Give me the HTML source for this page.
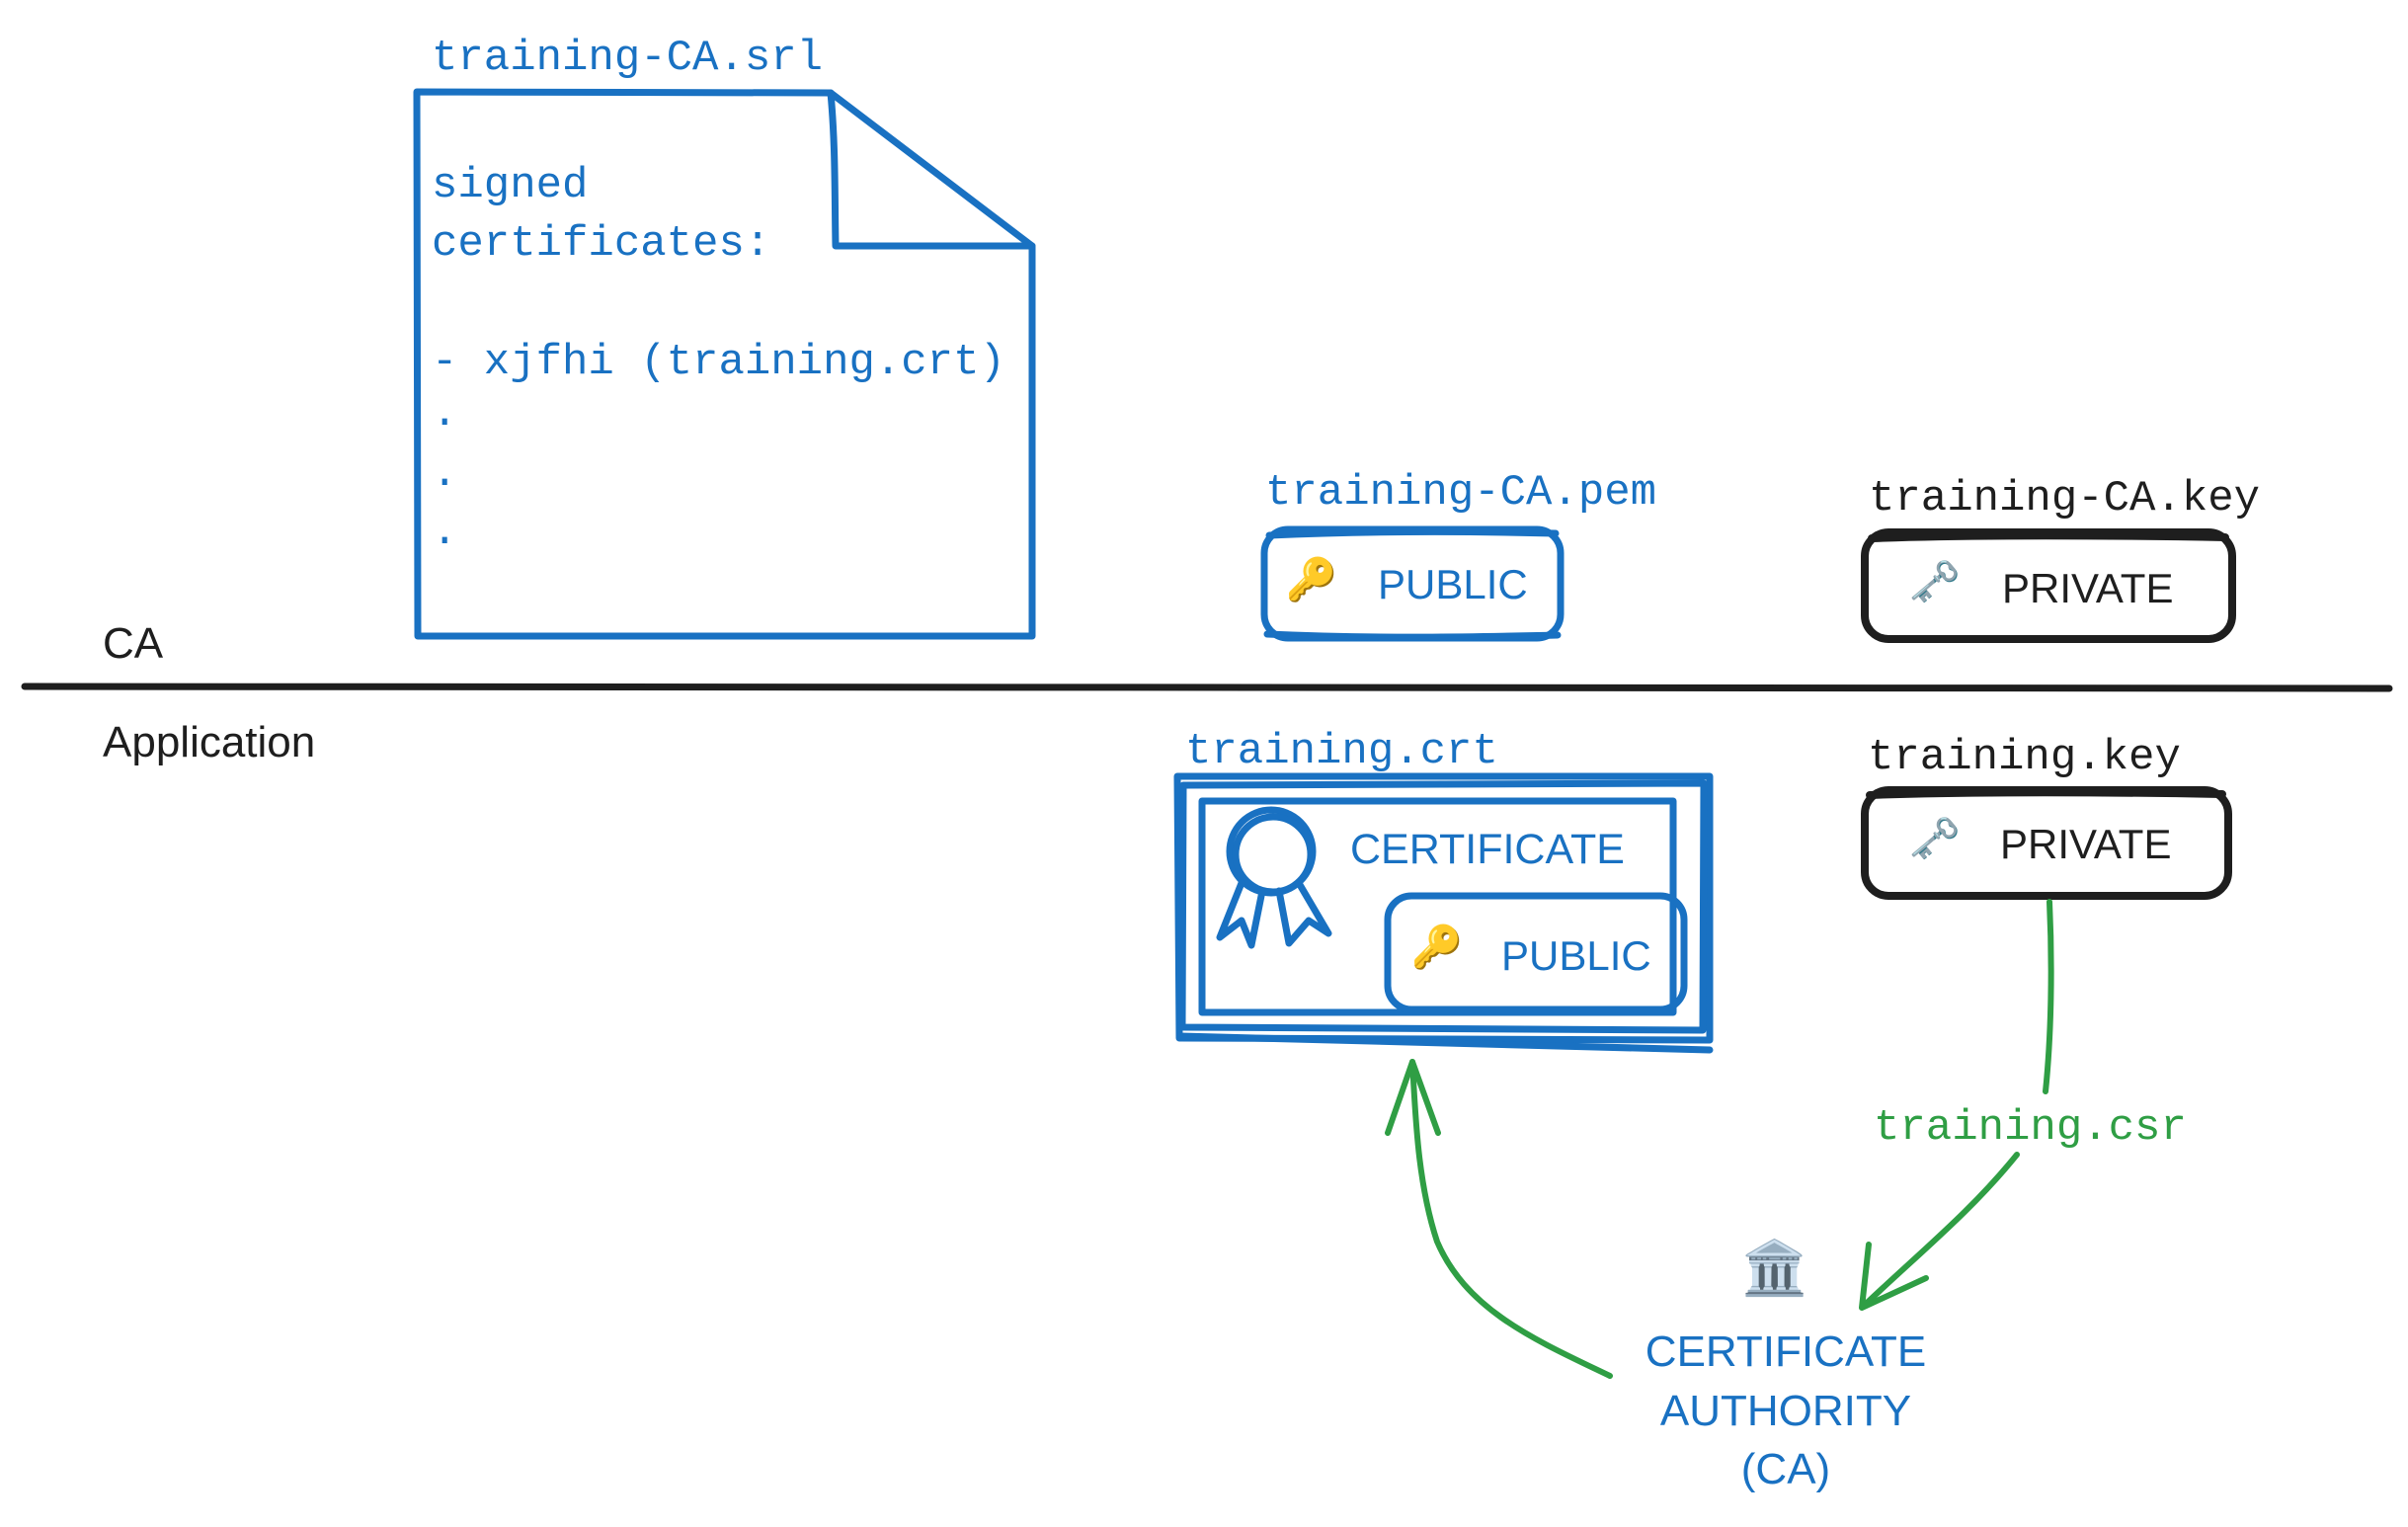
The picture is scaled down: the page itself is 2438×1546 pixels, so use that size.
<!DOCTYPE html>
<html><head><meta charset="utf-8"><style>
html,body{margin:0;padding:0;background:#fff;}
svg{display:block;}
.m{font-family:"Liberation Mono",monospace;font-size:44px;}
.s{font-family:"Liberation Sans",sans-serif;}
</style></head><body>
<svg width="2438" height="1546" viewBox="0 0 2438 1546" xmlns="http://www.w3.org/2000/svg">
<g transform="translate(-5,-3)">
<g fill="none" stroke="#1971c2" stroke-width="7" stroke-linejoin="round" stroke-linecap="round">
  <path d="M427 96 L846 97 L1050 252 L1050 647 L428 647 Z"/>
  <path d="M846 97 C851 150 850 200 851 252 L1050 252"/>
  <rect x="1285" y="539" width="300" height="110" rx="24"/>
  <path d="M1290 545 C1400 540 1500 541 1580 543 M1288 645 C1400 650 1500 648 1582 646"/>
  <path d="M1197 789 L1736 789 L1736 1056 L1199 1054 Z"/>
  <path d="M1203 798 L1730 796 L1729 1046 L1202 1043 Z M1200 1052 L1736 1066"/>
  <rect x="1222" y="814" width="477" height="214"/>
  <rect x="1410" y="910" width="300" height="115" rx="24"/>
  <circle cx="1292" cy="865" r="42"/>
  <circle cx="1294" cy="868" r="38"/>
  <path d="M1262 897 L1240 952 L1262 935 L1272 960 L1283 905 M1320 897 L1350 948 L1330 935 L1310 958 L1300 905"/>
</g>
<g fill="none" stroke="#1e1e1e" stroke-width="8" stroke-linejoin="round" stroke-linecap="round">
  <rect x="1893" y="542" width="372" height="108" rx="24"/>
  <path d="M1900 548 C2000 544 2150 545 2258 547"/>
  <rect x="1893" y="803" width="368" height="107" rx="24"/>
  <path d="M1898 808 C2000 804 2150 805 2255 807"/>
  <path d="M30 698 L2424 700" stroke-width="7"/>
</g>
<g fill="none" stroke="#2f9e44" stroke-width="6" stroke-linecap="round" stroke-linejoin="round">
  <path d="M2080 916 C2083 980 2082 1050 2076 1108"/>
  <path d="M2047 1172 C2000 1230 1950 1270 1892 1325"/>
  <path d="M1897 1263 L1890 1327 L1955 1297"/>
  <path d="M1635 1396 C1560 1360 1490 1330 1460 1260 C1440 1200 1438 1130 1435 1078"/>
  <path d="M1410 1150 L1435 1078 L1461 1150"/>
</g>
<g fill="#1971c2">
  <text class="m" x="442" y="73">training-CA.srl</text>
  <text class="m" x="442" y="202">signed</text>
  <text class="m" x="442" y="261">certificates:</text>
  <text class="m" x="442" y="381">- xjfhi (training.crt)</text>
  <text class="m" x="442" y="433">.</text>
  <text class="m" x="442" y="494">.</text>
  <text class="m" x="442" y="553">.</text>
  <text class="m" x="1286" y="513">training-CA.pem</text>
  <text class="m" x="1205" y="775">training.crt</text>
  <text class="s" x="1400" y="609" font-size="42">PUBLIC</text>
  <text class="s" x="1372" y="877" font-size="43">CERTIFICATE</text>
  <text class="s" x="1525" y="985" font-size="42">PUBLIC</text>
  <text class="s" x="1813" y="1386" font-size="44" text-anchor="middle">CERTIFICATE</text>
  <text class="s" x="1813" y="1446" font-size="44" text-anchor="middle">AUTHORITY</text>
  <text class="s" x="1813" y="1505" font-size="44" text-anchor="middle">(CA)</text>
</g>
<g fill="#1e1e1e">
  <text class="m" x="1897" y="519">training-CA.key</text>
  <text class="m" x="1896" y="781">training.key</text>
  <text class="s" x="2032" y="613" font-size="42">PRIVATE</text>
  <text class="s" x="2030" y="872" font-size="42">PRIVATE</text>
  <text class="s" x="109" y="669" font-size="44">CA</text>
  <text class="s" x="109" y="769" font-size="44">Application</text>
</g>
<text class="m" x="1902" y="1156" fill="#2f9e44">training.csr</text>
<g font-size="42" font-family="'Noto Color Emoji','DejaVu Sans',sans-serif" text-anchor="middle">
  <text x="1333" y="604" fill="#e0a800">🔑</text>
  <text x="1460" y="976" fill="#e0a800">🔑</text>
  <text x="1964" y="606" fill="#555">🗝</text>
  <text x="1964" y="866" fill="#555">🗝</text>
  <text x="1802" y="1305" fill="#8a7a5a" font-size="54">🏛</text>
</g>
</g>
</svg>
</body></html>
